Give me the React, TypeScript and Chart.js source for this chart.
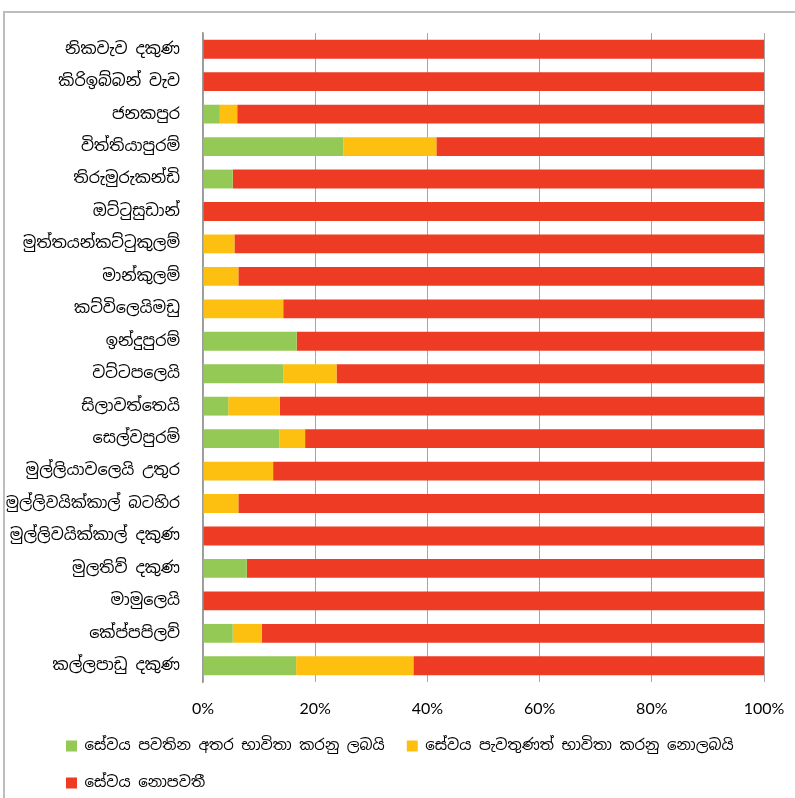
import React, { useEffect, useRef } from "react";
import { Chart, registerables } from "chart.js";

Chart.register(...registerables);

const categories = [
  "නිකවැව දකුණ",
  "කිරිඉබ්බන් වැව",
  "ජනකපුර",
  "විත්තියාපුරම්",
  "තිරුමුරුකන්ඩි",
  "ඔට්ටුසුඩාන්",
  "මුත්තයන්කට්ටුකුලම්",
  "මාන්කුලම්",
  "කට්විලෙයිමඩු",
  "ඉන්දුපුරම්",
  "වට්ටපලෙයි",
  "සිලාවත්තෙයි",
  "සෙල්වපුරම්",
  "මුල්ලියාවලෙයි උතුර",
  "මුල්ලිවයික්කාල් බටහිර",
  "මුල්ලිවයික්කාල් දකුණ",
  "මුලතිව් දකුණ",
  "මාමුලෙයි",
  "කේප්පපිලව්",
  "කල්ලපාඩු දකුණ",
];

const seriesNames = [
  "සේවය පවතින අතර භාවිතා කරනු ලබයි",
  "සේවය පැවතුණත් භාවිතා කරනු නොලබයි",
  "සේවය නොපවතී",
];

const availableUsed = [0, 0, 3.0, 25.0, 5.3, 0, 0, 0, 0, 16.7, 14.3, 4.5, 13.6, 0, 0, 0, 7.8, 0, 5.3, 16.6];
const availableNotUsed = [0, 0, 3.1, 16.6, 0, 0, 5.6, 6.3, 14.3, 0, 9.5, 9.2, 4.6, 12.5, 6.3, 0, 0, 0, 5.2, 20.9];
const notAvailable = [100, 100, 93.9, 58.4, 94.7, 100, 94.4, 93.7, 85.7, 83.3, 76.2, 86.3, 81.8, 87.5, 93.7, 100, 92.2, 100, 89.5, 62.5];

const xTicks = [0, 20, 40, 60, 80, 100];

const colors = ["#94C955", "#FDC010", "#EE3B24"];

const sinhalaFont = "'Noto Sans Sinhala', 'Iskoola Pota', 'Noto Sans', 'DejaVu Sans', sans-serif";

const measureCtx = typeof document !== "undefined" ? document.createElement("canvas").getContext("2d") : null;
function labelSize(text: string): number {
  const base = 16;
  const maxW = 175;
  if (!measureCtx) return base;
  measureCtx.font = `${base}px ${sinhalaFont}`;
  const w = measureCtx.measureText(text).width;
  return w > maxW ? Math.floor(((base * maxW) / w) * 10) / 10 : base;
}

export default function App() {
  const ref = useRef<HTMLCanvasElement>(null);

  useEffect(() => {
    if (!ref.current) return;
    const legendFitPlugin = {
      id: "legendFit",
      beforeInit(chart: any) {
        const orig = chart.legend.fit;
        chart.legend.fit = function () {
          orig.bind(chart.legend)();
          this.height = 81.5;
        };
      },
      beforeDraw(chart: any) {
        chart.legend.left = 44;
      },
    };
    const chart = new Chart(ref.current, {
      type: "bar",
      data: {
        labels: categories,
        datasets: [
          { label: seriesNames[0], data: availableUsed, backgroundColor: colors[0] },
          { label: seriesNames[1], data: availableNotUsed, backgroundColor: colors[1] },
          { label: seriesNames[2], data: notAvailable, backgroundColor: colors[2] },
        ].map((d) => ({ ...d, barPercentage: 0.58, categoryPercentage: 1, borderWidth: 0 })),
      },
      options: {
        indexAxis: "y",
        animation: false,
        responsive: false,
        maintainAspectRatio: false,
        layout: { padding: { top: 33, left: 2, right: 31, bottom: 0 } },
        plugins: {
          tooltip: { enabled: false },
          legend: {
            position: "bottom",
            align: "start",
            labels: {
              boxWidth: 11,
              boxHeight: 11,
              padding: 22,
              color: "#000",
              font: { size: 15, family: sinhalaFont },
            },
          },
        },
        scales: {
          x: {
            stacked: true,
            min: 0,
            max: 100,
            afterBuildTicks(scale: any) {
              scale.ticks = xTicks.map((v) => ({ value: v }));
            },
            afterFit(scale: any) {
              scale.height = 34.5;
              scale.paddingLeft = 0;
              scale.paddingRight = 0;
            },
            ticks: {
              padding: 17,
              color: "#000",
              font: { size: 16, family: "Lato, 'Open Sans', sans-serif" },
              callback: (v: any) => v + "%",
            },
            grid: { color: "#A6A6A6", lineWidth: 1, drawTicks: false },
            border: { display: false },
          },
          y: {
            stacked: true,
            afterFit(scale: any) {
              scale.width = 201;
            },
            ticks: {
              padding: 23,
              color: "#000",
              autoSkip: false,
              font: (ctx: any) => ({ size: labelSize(categories[ctx.index] || ""), family: sinhalaFont }),
            },
            grid: { display: false, drawTicks: false },
            border: { display: true, color: "#9A9A9A", width: 1.5 },
          },
        },
      },
      plugins: [legendFitPlugin],
    } as any);
    return () => chart.destroy();
  }, []);

  return (
    <div style={{ position: "fixed", left: 0, top: 0, width: 795, height: 798, background: "#fff", overflow: "hidden" }}>
      <div
        style={{
          position: "absolute",
          left: 3,
          top: 11,
          width: 820,
          height: 820,
          borderLeft: "2px solid #BDBDBD",
          borderTop: "2px solid #BDBDBD",
        }}
      />
      <canvas ref={ref} width={795} height={798} style={{ position: "absolute", left: 0, top: 0 }} />
    </div>
  );
}
